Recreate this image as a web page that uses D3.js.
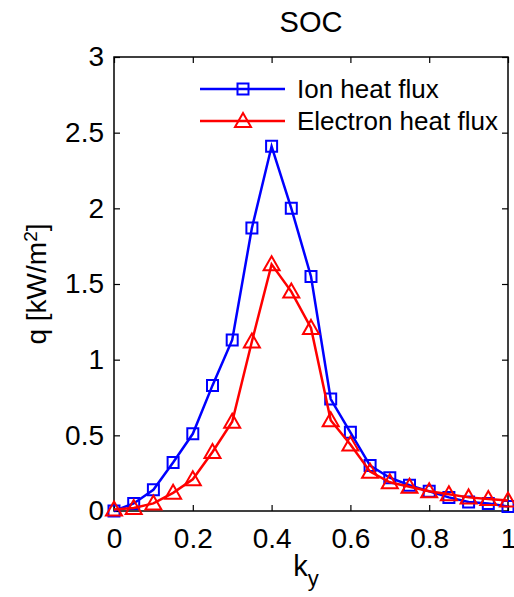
<!DOCTYPE html>
<html>
<head>
<meta charset="utf-8">
<script src="https://cdn.jsdelivr.net/npm/d3@7"></script>
<style>
  body { margin: 0; background: #fff; }
  svg { font-family: "Liberation Sans", Arial, sans-serif; }
</style>
</head>
<body>
<div class="chart"></div>
<script>
// data
var ky = [0, 0.05, 0.1, 0.15, 0.2, 0.25, 0.3, 0.35, 0.4, 0.45, 0.5,
          0.55, 0.6, 0.65, 0.7, 0.75, 0.8, 0.85, 0.9, 0.95, 1.0];
var ionFlux = [0.0, 0.05, 0.14, 0.32, 0.51, 0.83, 1.13, 1.87, 2.41, 2.0, 1.55,
               0.74, 0.52, 0.30, 0.22, 0.17, 0.13, 0.09, 0.06, 0.05, 0.03];
var electronFlux = [0.01, 0.02, 0.05, 0.12, 0.21, 0.39, 0.59, 1.12, 1.63, 1.45, 1.21,
                    0.60, 0.44, 0.26, 0.19, 0.16, 0.13, 0.11, 0.09, 0.08, 0.07];
var xTicks = [0, 0.2, 0.4, 0.6, 0.8, 1];
var yTicks = [0, 0.5, 1, 1.5, 2, 2.5, 3];
var seriesNames = ['Ion heat flux', 'Electron heat flux'];

var margin = {top: 57, right: 6, bottom: 86, left: 114},
  width = 514 - margin.left - margin.right,
  height = 597 - margin.top - margin.bottom;

var svg = d3.select('.chart')
  .append('svg')
  .attr('width', 514)
  .attr('height', 597)
  .append('g')
  .attr('transform', 'translate(' + margin.left + ',' + margin.top + ')');

var x = d3.scaleLinear().domain([0, 1]).range([0, width]);
var y = d3.scaleLinear().domain([0, 3]).range([height, 0]);

var fmt = function (d) { return String(d); };

// bottom + left axes with inward ticks
svg.append('g')
  .attr('transform', 'translate(0,' + height + ')')
  .call(d3.axisBottom(x).tickValues(xTicks).tickFormat(fmt)
    .tickSizeInner(-6).tickSizeOuter(0).tickPadding(17))
  .call(g => g.select('.domain').remove())
  .call(g => g.selectAll('.tick text').style('font-size', '28px').attr('fill', '#000'));

svg.append('g')
  .call(d3.axisLeft(y).tickValues(yTicks).tickFormat(fmt)
    .tickSizeInner(-6).tickSizeOuter(0).tickPadding(10))
  .call(g => g.select('.domain').remove())
  .call(g => g.selectAll('.tick text').style('font-size', '28px').attr('fill', '#000'));

// mirrored ticks on top and right
svg.append('g')
  .call(d3.axisTop(x).tickValues(xTicks).tickFormat('')
    .tickSizeInner(-6).tickSizeOuter(0))
  .call(g => g.select('.domain').remove());

svg.append('g')
  .attr('transform', 'translate(' + width + ',0)')
  .call(d3.axisRight(y).tickValues(yTicks).tickFormat('')
    .tickSizeInner(-6).tickSizeOuter(0))
  .call(g => g.select('.domain').remove());

svg.selectAll('.tick line').attr('stroke', '#000').attr('stroke-width', 1.2);

// box
svg.append('rect')
  .attr('width', width)
  .attr('height', height)
  .attr('fill', 'none')
  .attr('stroke', '#000')
  .attr('stroke-width', 1.5);

var square = 'M-5.5,-5.5H5.5V5.5H-5.5Z';
var triangle = 'M0,-8L8,6L-8,6Z';

var series = [
  {name: seriesNames[0], values: ionFlux, color: '#0000ff', marker: square},
  {name: seriesNames[1], values: electronFlux, color: '#ff0000', marker: triangle}
];

var line = d3.line()
  .x(function (d) { return x(d[0]); })
  .y(function (d) { return y(d[1]); });

series.forEach(function (s) {
  var pts = ky.map(function (k, i) { return [k, s.values[i]]; });
  svg.append('path')
    .datum(pts)
    .attr('fill', 'none')
    .attr('stroke', s.color)
    .attr('stroke-width', 2.5)
    .attr('d', line);
  svg.selectAll(null)
    .data(pts)
    .enter()
    .append('path')
    .attr('transform', function (d) { return 'translate(' + x(d[0]) + ',' + y(d[1]) + ')'; })
    .attr('d', s.marker)
    .attr('fill', 'none')
    .attr('stroke', s.color)
    .attr('stroke-width', 2);
});

// legend
var legend = svg.append('g')
  .attr('transform', 'translate(' + (200 - margin.left) + ',' + (89 - margin.top) + ')');
series.forEach(function (s, i) {
  var row = legend.append('g').attr('transform', 'translate(0,' + (i * 32) + ')');
  row.append('line')
    .attr('x1', 0).attr('x2', 85)
    .attr('stroke', s.color).attr('stroke-width', 2.5);
  row.append('path')
    .attr('transform', 'translate(43,0)')
    .attr('d', s.marker)
    .attr('fill', 'none')
    .attr('stroke', s.color)
    .attr('stroke-width', 2);
  row.append('text')
    .attr('x', 97)
    .attr('dy', '0.36em')
    .style('font-size', '26px')
    .text(s.name);
});

// title
svg.append('text')
  .attr('x', width / 2)
  .attr('y', 32 - margin.top)
  .style('text-anchor', 'middle')
  .style('font-size', '29px')
  .text('SOC');

// y label
var ylab = svg.append('text')
  .attr('transform', 'translate(' + (46 - margin.left) + ',' + (284 - margin.top) + ') rotate(-90)')
  .style('text-anchor', 'middle')
  .style('font-size', '28px');
ylab.append('tspan').text('q [kW/m');
ylab.append('tspan').attr('dy', '-0.45em').style('font-size', '19px').text('2');
ylab.append('tspan').attr('dy', '0.3em').text(']');

// x label
var xlab = svg.append('text')
  .attr('x', 306 - margin.left)
  .attr('y', 576 - margin.top)
  .style('text-anchor', 'middle')
  .style('font-size', '29px');
xlab.append('tspan').text('k');
xlab.append('tspan').attr('dy', '0.45em').style('font-size', '22px').text('y');
</script>
</body>
</html>
